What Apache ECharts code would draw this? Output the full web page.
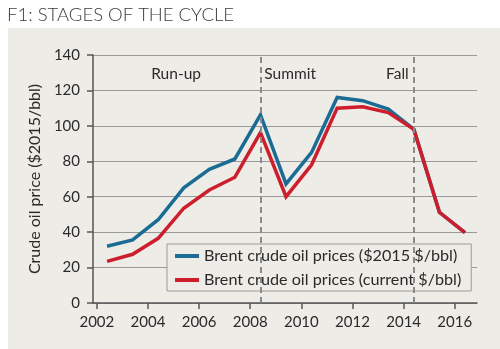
<!DOCTYPE html>
<html>
<head>
<meta charset="utf-8">
<script src="https://cdn.jsdelivr.net/npm/echarts@6/dist/echarts.min.js"></script>
<style>html,body{margin:0;padding:0;background:#fff;}#c{width:500px;height:349px;}</style>
</head>
<body>
<div id="c"></div>
<script>
const years = [2002, 2003, 2004, 2005, 2006, 2007, 2008, 2009, 2010, 2011, 2012, 2013, 2014, 2015, 2016];
const brentReal2015 = [32, 35.6, 47, 65, 75.5, 81.3, 106.2, 67.2, 85, 116, 114.2, 109.5, 98, 51.2, 39.7];
const brentNominal = [23.5, 27.5, 36.5, 53.5, 63.8, 71, 96.2, 60, 78, 110, 110.8, 107.5, 98, 51.2, 39.7];
const xTicks = [2002, 2004, 2006, 2008, 2010, 2012, 2014, 2016];
const stageBreaks = [2008.4, 2014.4];
const stageLabels = [
  { name: 'Run-up', coord: [2005.1, 129], align: 'center' },
  { name: 'Summit', coord: [2008.55, 129], align: 'left' },
  { name: 'Fall', coord: [2014.2, 129], align: 'right' }
];
const seriesNames = ['Brent crude oil prices ($2015 $/bbl)', 'Brent crude oil prices (current $/bbl)'];

const FONT = 'Lato';
const xPos = years.map(y => y + 0.4); // annual averages plotted at mid-year

const chart = echarts.init(document.getElementById('c'), null, { renderer: 'canvas' });
chart.setOption({
  animation: false,
  backgroundColor: '#ffffff',
  graphic: [{
    type: 'rect', z: -100, silent: true,
    shape: { x: 8, y: 28, width: 492, height: 321 },
    style: { fill: '#EEECE7' }
  }],
  title: {
    text: 'F1: STAGES OF THE CYCLE',
    left: 2, top: 1,
    textStyle: { fontFamily: FONT, fontSize: 18.5, fontWeight: 300, color: '#3a3a3a' }
  },
  grid: { left: 93, right: 23, top: 55, bottom: 46, containLabel: false },
  legend: {
    orient: 'vertical',
    left: 167, top: 244,
    padding: [4, 10, 3, 6],
    itemGap: 8,
    itemWidth: 24, itemHeight: 14,
    backgroundColor: '#EEECE7',
    borderColor: '#9a9a9a', borderWidth: 1,
    itemStyle: { opacity: 0 },
    lineStyle: { width: 4 },
    textStyle: { fontFamily: FONT, fontSize: 16.2, color: '#2a2a2a' },
    data: seriesNames
  },
  xAxis: {
    type: 'value',
    min: 2001.85, max: 2016.87,
    axisLine: { show: true, lineStyle: { color: '#555', width: 1.5 } },
    axisTick: { show: true, customValues: xTicks, length: 6, lineStyle: { color: '#555', width: 1.5 } },
    axisLabel: { customValues: xTicks, margin: 12, fontFamily: FONT, fontSize: 15, color: '#2a2a2a', formatter: v => String(v) },
    splitLine: { show: false }
  },
  yAxis: {
    type: 'value',
    min: 0, max: 140, interval: 20,
    name: 'Crude oil price ($2015/bbl)',
    nameLocation: 'middle', nameGap: 49,
    nameTextStyle: { fontFamily: FONT, fontSize: 16, color: '#2a2a2a' },
    axisLine: { show: true, lineStyle: { color: '#555', width: 1.5 } },
    axisTick: { show: true, length: 6, lineStyle: { color: '#555', width: 1.5 } },
    axisLabel: { margin: 13, fontFamily: FONT, fontSize: 15, color: '#2a2a2a' },
    splitLine: { show: true, lineStyle: { color: '#999', width: 1 } }
  },
  series: [
    {
      name: seriesNames[0], type: 'line', symbol: 'none', z: 3,
      color: '#1B6C95',
      lineStyle: { width: 3.5, color: '#1B6C95', join: 'miter' },
      data: xPos.map((x, i) => [x, brentReal2015[i]]),
      markLine: {
        silent: true, symbol: 'none',
        lineStyle: { color: '#8a8a8a', width: 2, type: [6, 4] },
        label: { show: false },
        data: stageBreaks.map(v => ({ xAxis: v }))
      },
      markPoint: {
        symbol: 'circle', symbolSize: 0,
        label: {
          show: true, position: 'inside',
          fontFamily: FONT, fontSize: 15.5, color: '#2a2a2a',
          formatter: p => p.name
        },
        data: stageLabels.map(s => ({ name: s.name, coord: s.coord, label: { align: s.align } }))
      }
    },
    {
      name: seriesNames[1], type: 'line', symbol: 'none', z: 4,
      color: '#CC1E2C',
      lineStyle: { width: 3.5, color: '#CC1E2C', join: 'miter' },
      data: xPos.map((x, i) => [x, brentNominal[i]])
    }
  ]
});
</script>
</body>
</html>
